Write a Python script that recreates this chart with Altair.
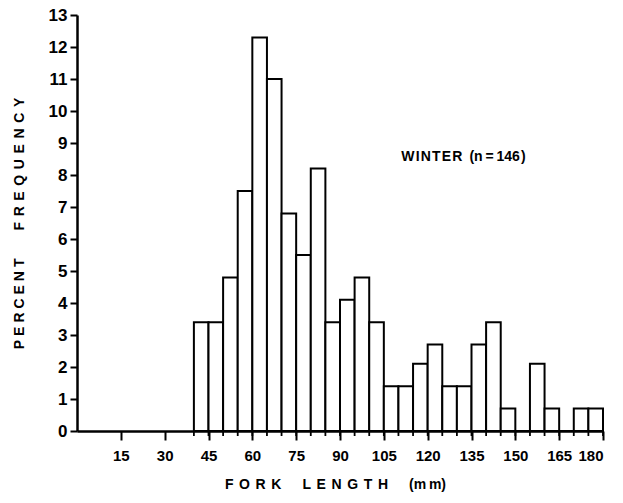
import altair as alt
import pandas as pd

# Fork-length classes (mm), 5 mm wide, and percent frequency per class
bin_start = [40, 45, 50, 55, 60, 65, 70, 75, 80, 85, 90, 95, 100, 105,
             110, 115, 120, 125, 130, 135, 140, 145, 150, 155, 160, 165, 170, 175]
bin_end = [45, 50, 55, 60, 65, 70, 75, 80, 85, 90, 95, 100, 105, 110,
           115, 120, 125, 130, 135, 140, 145, 150, 155, 160, 165, 170, 175, 180]
percent = [3.4, 3.4, 4.8, 7.5, 12.3, 11.0, 6.8, 5.5, 8.2, 3.4, 4.1, 4.8, 3.4, 1.4,
           1.4, 2.1, 2.7, 1.4, 1.4, 2.7, 3.4, 0.7, 0.0, 2.1, 0.7, 0.0, 0.7, 0.7]

x_ticks = [15, 30, 45, 60, 75, 90, 105, 120, 135, 150, 165, 180]
y_ticks = [0, 1, 2, 3, 4, 5, 6, 7, 8, 9, 10, 11, 12, 13]
class_edges = [40, 45, 50, 55, 60, 65, 70, 75, 80, 85, 90, 95, 100, 105, 110,
               115, 120, 125, 130, 135, 140, 145, 150, 155, 160, 165, 170, 175, 180]

def spaced(text, gap="\u2009\u200a"):
    return gap.join(text)

bars_df = pd.DataFrame({"start": bin_start, "end": bin_end, "pct": percent})
edges_df = pd.DataFrame({"edge": class_edges})
note_df = pd.DataFrame({"x": [111.0], "y": [8.55],
                        "label": [spaced("WINTER", "\u200a") + "\u2002(n\u2009=\u2009146\u200a)"]})

FONT = "Liberation Sans"
W, H = 526, 416

x_scale = alt.Scale(domain=[0, 180], nice=False, zero=False)
y_scale = alt.Scale(domain=[0, 13], nice=False)

x_axis = alt.Axis(values=x_ticks,
                  title=spaced("FORK", "\u2009\u2009") + "\u2003\u2002" + spaced("LENGTH", "\u2009\u2009")
                  + "\u2003\u2002(m\u2009m)",
                  grid=False, tickSize=9, tickWidth=2, domainWidth=2.5,
                  domainColor="black", tickColor="black",
                  labelFontSize=15, labelFont=FONT, labelFontWeight="bold",
                  labelColor="black", labelPadding=8, labelOverlap=False,
                  titleFont=FONT, titleFontSize=14, titleFontWeight="bold",
                  titleColor="black", titlePadding=14, titleX=258)
y_axis = alt.Axis(values=y_ticks,
                  title=spaced("PERCENT") + "\u2003\u2003" + spaced("FREQUENCY", "\u2009\u2009"),
                  grid=False, tickSize=7, tickWidth=2, domainWidth=2.5,
                  domainColor="black", tickColor="black",
                  labelFontSize=17, labelFont=FONT, labelFontWeight="bold",
                  labelColor="black", labelPadding=3, labelOverlap=False,
                  titleFont=FONT, titleFontSize=14, titleFontWeight="bold",
                  titleColor="black", titlePadding=22)

bars = alt.Chart(bars_df).mark_rect(
    fill="white", stroke="black", strokeWidth=2
).encode(
    x=alt.X("start:Q", scale=x_scale, axis=x_axis),
    x2="end:Q",
    y=alt.Y("pct:Q", scale=y_scale, axis=y_axis),
    y2=alt.datum(0),
)

# short marks under the axis at each class boundary
edge_ticks = alt.Chart(edges_df).mark_rule(color="black", strokeWidth=1.8).encode(
    x=alt.X("edge:Q", scale=x_scale, axis=x_axis),
    y=alt.value(H),
    y2=alt.value(H + 5),
)

note = alt.Chart(note_df).mark_text(
    align="left", baseline="middle", font=FONT, fontSize=14, fontWeight="bold", color="black"
).encode(
    x=alt.X("x:Q", scale=x_scale, axis=x_axis),
    y=alt.Y("y:Q", scale=y_scale, axis=y_axis),
    text="label:N",
)

chart = alt.layer(bars, edge_ticks, note).properties(
    width=W, height=H,
    padding={"left": 77, "top": 15, "right": 20, "bottom": 72},
    autosize=alt.AutoSizeParams(type="none"),
    background="white",
).configure_view(stroke=None)

chart.save("out.html", embed_options={"renderer": "svg", "actions": False})
